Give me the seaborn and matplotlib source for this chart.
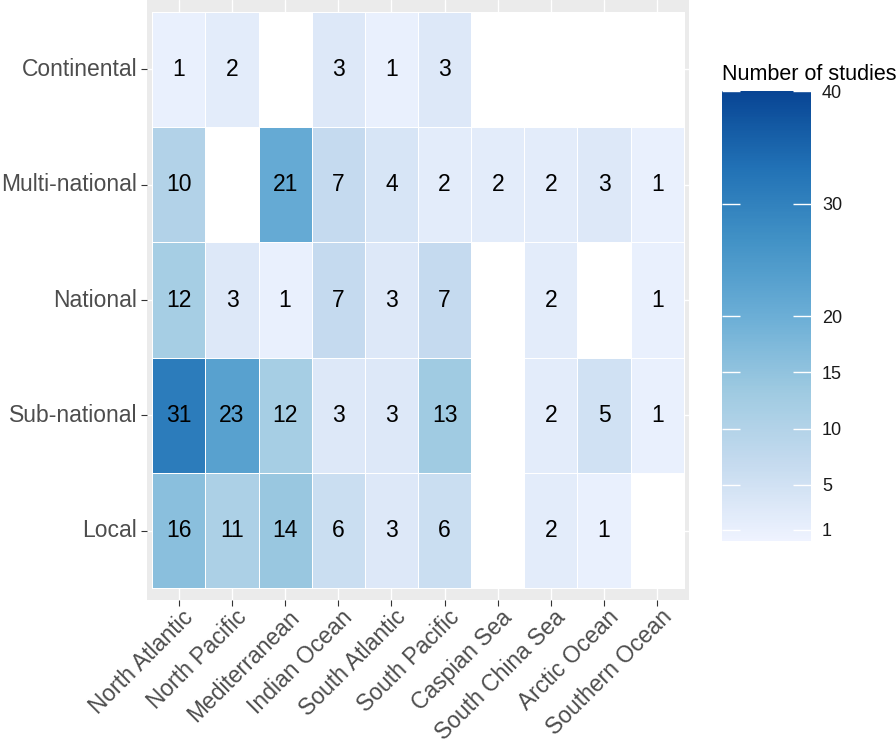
import numpy as np
import pandas as pd
import matplotlib
matplotlib.use("Agg")
import matplotlib.pyplot as plt
import matplotlib.transforms as mtransforms
from matplotlib.colors import LinearSegmentedColormap
import seaborn as sns

# Data: number of studies per ocean region and spatial scale
regions = ["North Atlantic", "North Pacific", "Mediterranean", "Indian Ocean",
           "South Atlantic", "South Pacific", "Caspian Sea", "South China Sea",
           "Arctic Ocean", "Southern Ocean"]
scales = ["Continental", "Multi-national", "National", "Sub-national", "Local"]

continental = [1, 2, np.nan, 3, 1, 3, np.nan, np.nan, np.nan, np.nan]
multi_national = [10, np.nan, 21, 7, 4, 2, 2, 2, 3, 1]
national = [12, 3, 1, 7, 3, 7, np.nan, 2, np.nan, 1]
sub_national = [31, 23, 12, 3, 3, 13, np.nan, 2, 5, 1]
local = [16, 11, 14, 6, 3, 6, np.nan, 2, 1, np.nan]

cbar_ticks = [1, 5, 10, 15, 20, 30, 40]
blues7 = ["#EFF3FF", "#C6DBEF", "#9ECAE1", "#6BAED6", "#4292C6", "#2171B5", "#084594"]

df = pd.DataFrame([continental, multi_national, national, sub_national, local],
                  index=scales, columns=regions)

# Style
sns.set_style("white")
plt.rcParams["font.family"] = ["Liberation Sans", "DejaVu Sans"]

cmap = LinearSegmentedColormap.from_list("blues7", blues7)
cmap.set_bad("white")

fig = plt.figure(figsize=(8.96, 7.45), dpi=100)
ax = fig.add_axes([0.164, 0.1946, 0.605, 0.805])
cax = fig.add_axes([0.8058, 0.2738, 0.0993, 0.604])

sns.heatmap(
    df, ax=ax, cmap=cmap, vmin=0, vmax=40,
    annot=True, fmt=".0f", annot_kws={"color": "black", "fontsize": 16.5},
    linewidths=0.4, linecolor="white", cbar=False
)

# ggplot-like grey panel margin
ax.set_facecolor("#EBEBEB")
ax.set_axisbelow(True)
ax.grid(True, color="white", linewidth=1.0)
ax.set_xlim(-0.1, len(regions) + 0.1)
ax.set_ylim(len(scales) + 0.1, -0.1)
for s in ax.spines.values():
    s.set_visible(False)
ax.set_xlabel("")
ax.set_ylabel("")

ax.tick_params(axis="both", length=4, width=0.8, color="#333333",
               labelsize=16.5, labelcolor="#4D4D4D", pad=3,
               bottom=True, left=True)
plt.setp(ax.get_yticklabels(), rotation=0)
shift = mtransforms.ScaledTranslation(11 / 100, -4 / 100, fig.dpi_scale_trans)
for lab in ax.get_xticklabels():
    lab.set_rotation(45)
    lab.set_ha("right")
    lab.set_va("center")
    lab.set_rotation_mode("anchor")
    lab.set_transform(lab.get_transform() + shift)

# Colorbar
cbar = fig.colorbar(ax.collections[0], cax=cax, ticks=cbar_ticks)
cbar.outline.set_visible(False)
cax.tick_params(length=0, labelsize=13, pad=8, labelcolor="#1A1A1A")
cax.hlines(cbar_ticks, 0, 0.2, color="white", linewidth=1, transform=cax.get_yaxis_transform())
cax.hlines(cbar_ticks, 0.8, 1, color="white", linewidth=1, transform=cax.get_yaxis_transform())

title_tr = mtransforms.offset_copy(cax.transAxes, fig=fig, y=8, units="points")
cax.text(0, 1, "Number of studies", transform=title_tr, ha="left", va="baseline",
         fontsize=15.5, color="black")

fig.savefig("out.png", dpi=100)
